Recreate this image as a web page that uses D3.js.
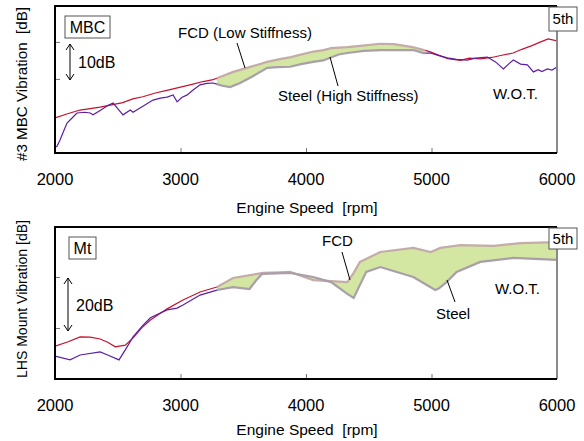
<!DOCTYPE html>
<html>
<head>
<meta charset="utf-8">
<script src="https://cdn.jsdelivr.net/npm/d3@7"></script>
<style>
  body { margin: 0; background: #fff; }
  svg text { font-family: "Liberation Sans", Arial, sans-serif; fill: #000; }
</style>
</head>
<body>
<div id="chart"></div>
<script>
// Engine speed ticks
const xTicks = [2000, 3000, 4000, 5000, 6000];

// Top: #3 MBC vibration [dB, relative]
const mbcFcdRpm = [2000, 2100, 2200, 2280, 2360, 2420, 2540, 2620, 2700, 2800, 2900, 3000, 3100, 3180, 3260, 3300, 3420, 3550, 3690, 3800, 3880, 3950, 4060, 4140, 4200, 4330, 4450, 4590, 4700, 4850, 4940, 4990, 5050, 5130, 5230, 5300, 5390, 5480, 5560, 5650, 5720, 5800, 5870, 5930, 6000];
const mbcFcdDb  = [9.5, 10.6, 11.6, 12.0, 12.4, 12.8, 13.6, 14.6, 15.2, 16.2, 17.0, 17.8, 18.6, 19.3, 19.8, 20.3, 21.9, 23.2, 24.6, 25.4, 25.9, 26.5, 27.4, 27.8, 28.3, 28.6, 29.0, 29.5, 29.4, 28.6, 27.8, 27.3, 26.5, 25.5, 25.0, 25.6, 25.4, 25.8, 26.4, 27.0, 28.0, 29.0, 30.0, 30.8, 30.3];
const mbcSteelRpm = [2000, 2016, 2040, 2070, 2096, 2140, 2175, 2240, 2280, 2303, 2360, 2420, 2463, 2500, 2542, 2600, 2622, 2700, 2781, 2840, 2893, 2941, 2973, 3010, 3053, 3100, 3156, 3210, 3260, 3330, 3396, 3475, 3580, 3691, 3770, 3874, 3960, 4057, 4137, 4193, 4260, 4329, 4460, 4592, 4720, 4855, 4935, 4990, 5060, 5126, 5200, 5285, 5350, 5445, 5510, 5573, 5620, 5652, 5710, 5764, 5812, 5850, 5880, 5923, 5960, 6000];
const mbcSteelDb  = [1.6, 1.8, 3.5, 6.0, 8.1, 9.6, 10.8, 11.0, 10.8, 10.3, 11.5, 12.8, 13.5, 12.0, 10.3, 11.6, 11.0, 12.6, 14.3, 14.8, 15.1, 15.7, 13.8, 15.0, 15.7, 17.0, 18.4, 18.8, 18.9, 18.2, 17.8, 18.9, 20.8, 23.0, 23.2, 23.3, 24.0, 24.6, 25.0, 25.7, 26.6, 27.0, 27.6, 27.8, 27.8, 27.8, 27.0, 27.0, 26.3, 25.7, 25.3, 25.1, 25.6, 25.9, 24.6, 22.7, 24.2, 25.1, 24.0, 23.8, 21.9, 22.5, 22.0, 22.7, 22.4, 23.2];
const mbcBand = [3290, 4950];

// Bottom: LHS mount vibration [dB, relative]
const mtFcdRpm = [2000, 2100, 2200, 2280, 2360, 2420, 2480, 2560, 2622, 2700, 2760, 2893, 3020, 3156, 3292, 3419, 3660, 3794, 3874, 4057, 4200, 4329, 4380, 4430, 4592, 4855, 4995, 5070, 5230, 5500, 5710, 6000];
const mtFcdDb  = [12.9, 14.5, 16.5, 16.4, 15.7, 14.4, 12.6, 13.3, 16.1, 20.5, 23.1, 27.5, 31.0, 34.1, 36.1, 39.6, 41.6, 41.8, 42.0, 38.8, 38.4, 38.0, 41.6, 45.9, 49.8, 51.4, 49.8, 51.4, 52.5, 52.2, 53.3, 53.7];
const mtSteelRpm = [2000, 2120, 2200, 2360, 2420, 2510, 2560, 2622, 2700, 2760, 2893, 2973, 3020, 3156, 3292, 3419, 3550, 3600, 3650, 3874, 4057, 4200, 4329, 4380, 4480, 4592, 4855, 5030, 5060, 5120, 5200, 5389, 5652, 6000];
const mtSteelDb  = [9.0, 7.5, 9.4, 10.6, 9.4, 7.5, 11.4, 16.5, 21.0, 24.0, 27.1, 27.8, 29.0, 32.9, 34.9, 36.0, 35.3, 38.5, 41.2, 41.6, 40.0, 38.0, 33.4, 31.8, 42.0, 43.9, 40.0, 34.9, 35.6, 38.0, 42.0, 45.9, 47.5, 46.7];
const mtBand = [3290, 6000];

const W = 584, H = 441;
const svg = d3.select("#chart").append("svg")
  .attr("width", W).attr("height", H);

const x = d3.scaleLinear().domain([2000, 6000]).range([55, 557]);

function zipSeries(rpm, db) { return rpm.map((r, i) => ({rpm: r, db: db[i]})); }

// linear value of a series at an rpm (used to close the band)
function valueAt(s, r) {
  for (let i = 1; i < s.length; i++) {
    if (s[i].rpm >= r) {
      const a = s[i - 1], b = s[i];
      const t = (r - a.rpm) / (b.rpm - a.rpm || 1);
      return a.db + t * (b.db - a.db);
    }
  }
  return s[s.length - 1].db;
}

function panel(cfg) {
  const y = d3.scaleLinear().domain(cfg.yDomain).range([cfg.bottom, cfg.top]);
  const g = svg.append("g");
  const fcd = zipSeries(cfg.fcdRpm, cfg.fcdDb);
  const steel = zipSeries(cfg.steelRpm, cfg.steelDb);

  const clipId = "clip" + cfg.id;
  svg.append("clipPath").attr("id", clipId).append("rect")
    .attr("x", 55).attr("y", cfg.top).attr("width", 502).attr("height", cfg.bottom - cfg.top);

  const line = d3.line().x(d => x(d.rpm)).y(d => y(d.db));
  const plot = g.append("g").attr("clip-path", "url(#" + clipId + ")");

  // green band between the two specifications
  const [b0, b1] = cfg.band;
  const grid = d3.range(b0, b1 + 1, 5);
  const area = d3.area()
    .x(r => x(r))
    .y0(r => y(valueAt(steel, r)))
    .y1(r => y(valueAt(fcd, r)));
  plot.append("path").datum(grid)
    .attr("d", area).attr("fill", "#d3e6a2").attr("stroke", "none");

  const p0 = s => ({rpm: b0, db: valueAt(s, b0)});
  const p1 = s => ({rpm: b1, db: valueAt(s, b1)});
  const edge = s => [p0(s)].concat(s.filter(d => d.rpm > b0 && d.rpm < b1), [p1(s)]);
  const before = s => s.filter(d => d.rpm < b0).concat([p0(s)]);
  const after = s => [p1(s)].concat(s.filter(d => d.rpm > b1));

  plot.append("path").datum(edge(fcd)).attr("d", line)
    .attr("fill", "none").attr("stroke", "#c4aca8").attr("stroke-width", 2.2);
  plot.append("path").datum(edge(steel)).attr("d", line)
    .attr("fill", "none").attr("stroke", "#a99fa9").attr("stroke-width", 2.2);

  [[fcd, "#c8102e"], [steel, "#5b1fa6"]].forEach(([s, c]) => {
    [before(s), after(s)].filter(a => a.length > 1).forEach(seg => {
      plot.append("path").datum(seg).attr("d", line)
        .attr("fill", "none").attr("stroke", c).attr("stroke-width", 1.2);
    });
  });

  // inner ticks
  const xAxis = d3.axisBottom(x).tickValues(xTicks).tickSize(-5).tickFormat("");
  const ax = g.append("g").attr("transform", "translate(0," + cfg.bottom + ")").call(xAxis);
  ax.select(".domain").remove();
  ax.selectAll("line").attr("stroke", "#777");

  const yAxis = d3.axisLeft(y).tickValues(cfg.yTicks).tickSize(-5).tickFormat("");
  const ay = g.append("g").attr("transform", "translate(55,0)").call(yAxis);
  ay.select(".domain").remove();
  ay.selectAll("line").attr("stroke", "#777");

  // frame
  g.append("line").attr("x1", 557).attr("x2", 557).attr("y1", cfg.top).attr("y2", cfg.bottom)
    .attr("stroke", "#8a8a8a").attr("stroke-width", 2);
  g.append("path")
    .attr("d", `M557,${cfg.top}H55V${cfg.bottom}H557`)
    .attr("fill", "none").attr("stroke", "#000").attr("stroke-width", 2);

  // tick labels
  g.selectAll(".xl").data(xTicks).enter().append("text")
    .attr("x", d => x(d)).attr("y", cfg.bottom + 32)
    .attr("text-anchor", "middle").attr("font-size", 16.5).text(d => d);

  g.append("text").attr("x", 307).attr("y", cfg.bottom + cfg.titleGap)
    .attr("text-anchor", "middle").attr("font-size", 15.5)
    .style("white-space", "pre").text("Engine Speed  [rpm]");

  g.append("text")
    .attr("transform", `translate(27,${cfg.yTitleMid}) rotate(-90)`)
    .attr("text-anchor", "middle").attr("font-size", 15.5)
    .attr("textLength", cfg.yTitleLen).attr("lengthAdjust", "spacingAndGlyphs")
    .style("white-space", "pre").text(cfg.yTitle);

  // label boxes
  const box = (bx, by, bw, bh, txt, fs) => {
    g.append("rect").attr("x", bx).attr("y", by).attr("width", bw).attr("height", bh)
      .attr("fill", "#fff").attr("stroke", "#555").attr("stroke-width", 1);
    g.append("text").attr("x", bx + bw / 2).attr("y", by + bh / 2 + fs * 0.36)
      .attr("text-anchor", "middle").attr("font-size", fs).text(txt);
  };
  box(cfg.nameBox[0], cfg.nameBox[1], cfg.nameBox[2], cfg.nameBox[3], cfg.name, 16);
  box(549, cfg.top + 1, 28, cfg.id === 1 ? 24 : 21, "5th", 15);

  // scale arrow
  const [ax0, ay0, ay1] = cfg.arrow;
  g.append("line").attr("x1", ax0).attr("x2", ax0).attr("y1", ay0).attr("y2", ay1)
    .attr("stroke", "#000").attr("stroke-width", 1);
  g.append("path").attr("d", `M${ax0 - 4},${ay0 + 6}L${ax0},${ay0}L${ax0 + 4},${ay0 + 6}M${ax0 - 4},${ay1 - 6}L${ax0},${ay1}L${ax0 + 4},${ay1 - 6}`)
    .attr("fill", "none").attr("stroke", "#000").attr("stroke-width", 1);
  g.append("text").attr("x", ax0 + 8).attr("y", (ay0 + ay1) / 2 + 6)
    .attr("font-size", 16).text(cfg.arrowText);

  // annotations
  cfg.notes.forEach(n => {
    g.append("text").attr("x", n.x).attr("y", n.y).attr("font-size", 15).text(n.t);
    if (n.l) g.append("line").attr("x1", n.l[0]).attr("y1", n.l[1]).attr("x2", n.l[2]).attr("y2", n.l[3])
      .attr("stroke", "#000").attr("stroke-width", 1);
  });
}

panel({
  id: 1, top: 6, bottom: 153, yDomain: [0, 39.7], yTicks: [20, 30],
  fcdRpm: mbcFcdRpm, fcdDb: mbcFcdDb, steelRpm: mbcSteelRpm, steelDb: mbcSteelDb, band: mbcBand,
  yTitle: "#3 MBC Vibration  [dB]", yTitleMid: 84, yTitleLen: 154, titleGap: 60,
  name: "MBC", nameBox: [65, 16, 45, 22],
  arrow: [70, 44, 80], arrowText: "10dB",
  notes: [
    {t: "FCD (Low Stiffness)", x: 178, y: 38, l: [237, 43, 245, 68]},
    {t: "Steel (High Stiffness)", x: 278, y: 101, l: [330, 57, 338, 86]},
    {t: "W.O.T.", x: 493, y: 99}
  ]
});

panel({
  id: 2, top: 227, bottom: 379, yDomain: [0, 59.6], yTicks: [20, 40],
  fcdRpm: mtFcdRpm, fcdDb: mtFcdDb, steelRpm: mtSteelRpm, steelDb: mtSteelDb, band: mtBand,
  yTitle: "LHS Mount Vibration [dB]", yTitleMid: 299, yTitleLen: 158, titleGap: 56,
  name: "Mt", nameBox: [69, 237, 27, 22],
  arrow: [68, 278, 331], arrowText: "20dB",
  notes: [
    {t: "FCD", x: 322, y: 246, l: [342, 252, 350, 280]},
    {t: "Steel", x: 436, y: 319, l: [447, 280, 455, 302]},
    {t: "W.O.T.", x: 495, y: 294}
  ]
});
</script>
</body>
</html>
